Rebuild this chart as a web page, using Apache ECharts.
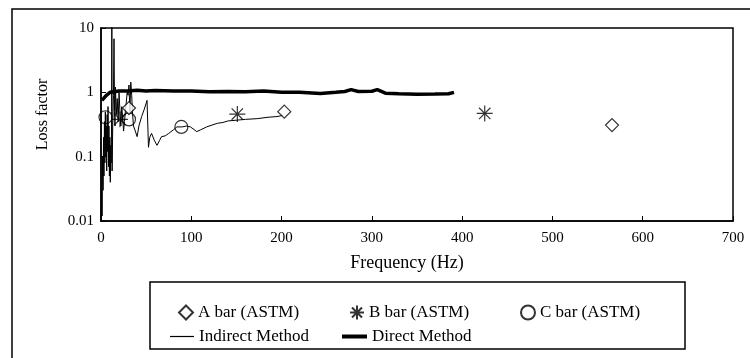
<!DOCTYPE html>
<html>
<head>
<meta charset="utf-8">
<script src="https://cdn.jsdelivr.net/npm/echarts@6/dist/echarts.min.js"></script>
<style>
  html, body { margin: 0; padding: 0; background: #fff; }
  #chart { width: 750px; height: 358px; }
</style>
</head>
<body>
<div id="chart"></div>
<script>
// ASTM bar tests: [frequency Hz, loss factor]
var barA = [[31, 0.57], [203, 0.5], [566, 0.31]];
var barB = [[21, 0.38], [151, 0.46], [425, 0.47]];
var barC = [[5, 0.41], [31, 0.38], [89, 0.29]];

// indirect method (thin noisy trace)
var indirectFreq = [0.3, 0.8, 1.2, 1.8, 2.3, 2.8, 3.3, 3.8, 4.3, 4.8, 5.3, 5.8, 6.3, 6.8, 7.3, 7.8, 8.3, 8.8,
  9.3, 9.8, 10.3, 10.8, 11.3, 11.8, 12, 12.3, 13, 13.8, 14.4, 15, 15.5, 16, 17, 18, 19, 20, 21, 22, 23, 24,
  25, 26, 27, 28, 29, 30, 31, 32, 33, 34, 35, 36, 38, 40, 42, 45, 48, 51, 52.6, 54, 56, 59, 62, 65, 67, 71,
  75, 80, 84, 90, 95, 99, 103, 106, 110, 117, 123, 129, 135, 141, 151, 160, 173, 185, 195, 202];
var indirectLoss = [0.01, 0.03, 0.012, 0.1, 0.03, 0.2, 0.05, 0.35, 0.08, 0.5, 0.1, 0.3, 0.06, 0.45, 0.12, 0.6, 0.07, 0.3,
  0.05, 0.2, 0.04, 0.15, 0.08, 0.5, 20, 0.06, 0.3, 0.9, 6.8, 0.5, 0.3, 1.2, 0.45, 0.8, 0.35, 1.0, 0.5, 0.3, 0.6, 0.4,
  0.25, 0.35, 0.5, 0.7, 1.0, 0.9, 1.3, 0.5, 1.44, 0.9, 0.45, 0.3, 0.25, 0.205, 0.3, 0.42, 0.55, 0.75, 0.14, 0.2, 0.23, 0.18, 0.15, 0.18, 0.205, 0.21,
  0.23, 0.26, 0.29, 0.29, 0.3, 0.29, 0.265, 0.245, 0.26, 0.29, 0.31, 0.33, 0.34, 0.36, 0.37, 0.38, 0.39, 0.41, 0.42, 0.44];

// direct method (thick trace)
var directFreq = [1, 3, 6, 10, 20, 30, 40, 50, 60, 80, 100, 120, 140, 160, 180, 200, 220, 243, 260, 270, 277, 285,
  300, 306, 315, 330, 350, 370, 385, 391];
var directLoss = [0.75, 0.8, 0.9, 1.0, 1.05, 1.05, 1.08, 1.05, 1.07, 1.05, 1.05, 1.02, 1.03, 1.02, 1.05, 1.0, 1.0, 0.96, 1.0, 1.03, 1.1, 1.03,
  1.04, 1.1, 0.97, 0.95, 0.93, 0.94, 0.95, 1.0];

var xTicks = [0, 100, 200, 300, 400, 500, 600, 700];
var yTicks = [0.01, 0.1, 1, 10];

function pairs(xs, ys) {
    return xs.map(function (x, i) { return [x, ys[i]]; });
}

var font = 'Liberation Serif';
var asterisk = 'path://M8,0L8,16M0,8L16,8M2.3,2.3L13.7,13.7M2.3,13.7L13.7,2.3';

function legendAt(name, left, top, extra) {
    var l = {
        data: [name],
        left: left,
        top: top,
        itemWidth: 14,
        itemHeight: 14,
        selectedMode: false,
        textStyle: { fontFamily: font, fontSize: 17, color: '#000' }
    };
    for (var k in extra) l[k] = extra[k];
    return l;
}

var option = {
    animation: false,
    backgroundColor: '#fff',
    grid: {
        left: 101, top: 28, right: 17, bottom: 137,
        show: true, borderColor: '#000', borderWidth: 1.5
    },
    xAxis: {
        type: 'value',
        min: xTicks[0],
        max: xTicks[xTicks.length - 1],
        interval: 100,
        name: 'Frequency (Hz)',
        nameLocation: 'middle',
        nameGap: 33,
        nameTextStyle: { fontFamily: font, fontSize: 18, color: '#000', padding: [0, 20, 0, 0] },
        axisLine: { lineStyle: { color: '#000', width: 1.5 } },
        axisTick: { inside: true, length: 5, lineStyle: { color: '#000' } },
        axisLabel: { fontFamily: font, fontSize: 15, color: '#000', margin: 10 },
        splitLine: { show: false }
    },
    yAxis: {
        type: 'log',
        logBase: 10,
        min: yTicks[0],
        max: yTicks[yTicks.length - 1],
        name: 'Loss factor',
        nameLocation: 'middle',
        nameGap: 50,
        nameTextStyle: { fontFamily: font, fontSize: 16, color: '#000', padding: [0, 0, 0, 20] },
        axisLine: { lineStyle: { color: '#000', width: 1.5 } },
        axisTick: { inside: true, length: 5, lineStyle: { color: '#000' } },
        axisLabel: {
            fontFamily: font, fontSize: 15, color: '#000', margin: 7,
            formatter: function (v) { return String(v); }
        },
        splitLine: { show: false }
    },
    legend: [
        legendAt('A bar (ASTM)', 173, 299),
        legendAt('B bar (ASTM)', 344, 299),
        legendAt('C bar (ASTM)', 515, 299),
        legendAt('Indirect Method', 165, 323, { icon: 'rect', itemWidth: 24, itemHeight: 1.2 }),
        legendAt('Direct Method', 337, 323, { icon: 'rect', itemWidth: 25, itemHeight: 4 })
    ],
    graphic: [
        { type: 'rect', shape: { x: 12, y: 9, width: 800, height: 400 },
          style: { fill: 'none', stroke: '#000', lineWidth: 1.5 }, silent: true },
        { type: 'rect', shape: { x: 150, y: 282, width: 535, height: 67 },
          style: { fill: 'none', stroke: '#000', lineWidth: 1.5 }, silent: true }
    ],
    series: [
        {
            name: 'Indirect Method', type: 'line', data: pairs(indirectFreq, indirectLoss),
            symbol: 'none', clip: true, z: 2,
            lineStyle: { color: '#000', width: 1 }, itemStyle: { color: '#000' }
        },
        {
            name: 'Direct Method', type: 'line', data: pairs(directFreq, directLoss),
            symbol: 'none', clip: true, z: 3,
            lineStyle: { color: '#000', width: 3.5 }, itemStyle: { color: '#000' }
        },
        {
            name: 'A bar (ASTM)', type: 'scatter', data: barA, symbol: 'diamond', symbolSize: 13, z: 5,
            itemStyle: { color: '#fff', borderColor: '#000', borderWidth: 1.2 }
        },
        {
            name: 'B bar (ASTM)', type: 'scatter', data: barB, symbol: asterisk, symbolSize: 16, z: 5,
            itemStyle: { color: '#000', borderColor: '#000', borderWidth: 1.2 }
        },
        {
            name: 'C bar (ASTM)', type: 'scatter', data: barC, symbol: 'circle', symbolSize: 13, z: 4,
            itemStyle: { color: 'rgba(255,255,255,0)', borderColor: '#000', borderWidth: 1.2 }
        }
    ]
};

var myChart = echarts.init(document.getElementById('chart'));
myChart.setOption(option);
</script>
</body>
</html>
